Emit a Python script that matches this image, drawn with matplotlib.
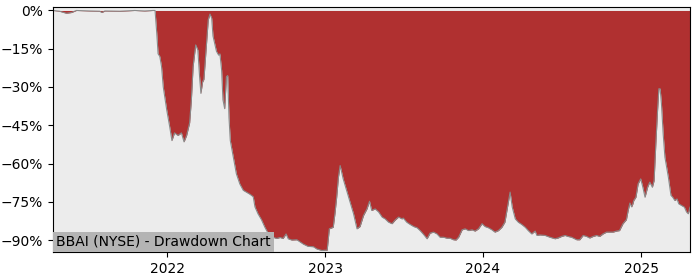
import matplotlib
matplotlib.use("Agg")
import matplotlib.pyplot as plt
import matplotlib.dates as mdates
import matplotlib.ticker as mticker
import pandas as pd

dates = ["2021-04-12","2021-04-27","2021-05-13","2021-05-25","2021-06-05","2021-07-06","2021-07-29","2021-08-03",
"2021-08-10","2021-09-14","2021-10-18","2021-11-10","2021-11-29","2021-12-04","2021-12-08","2021-12-11",
"2021-12-15","2021-12-19","2021-12-23","2021-12-31","2022-01-07","2022-01-12","2022-01-18","2022-01-26",
"2022-02-03","2022-02-09","2022-02-15","2022-02-22","2022-02-26","2022-03-02","2022-03-08","2022-03-13",
"2022-03-17","2022-03-20","2022-03-24","2022-03-27","2022-04-02","2022-04-06","2022-04-10","2022-04-14",
"2022-04-17","2022-04-25","2022-04-30","2022-05-03","2022-05-07","2022-05-10","2022-05-14","2022-05-18",
"2022-05-21","2022-05-24","2022-05-27","2022-06-03","2022-06-10","2022-06-18","2022-06-26","2022-07-11",
"2022-07-19","2022-07-23","2022-07-30","2022-08-07","2022-08-15","2022-08-23","2022-08-27","2022-09-03",
"2022-09-11","2022-09-19","2022-09-26","2022-10-03","2022-10-08","2022-10-16","2022-10-28","2022-11-04",
"2022-11-12","2022-11-23","2022-12-05","2022-12-13","2022-12-25","2023-01-01","2023-01-06","2023-01-11",
"2023-01-20","2023-01-24","2023-01-28","2023-02-01","2023-02-05","2023-02-12","2023-02-20","2023-02-28",
"2023-03-08","2023-03-16","2023-03-23","2023-03-31","2023-04-08","2023-04-14","2023-04-19","2023-04-27",
"2023-05-05","2023-05-13","2023-05-20","2023-05-28","2023-06-05","2023-06-12","2023-06-20","2023-06-28",
"2023-07-01","2023-07-09","2023-07-17","2023-07-25","2023-08-02","2023-08-09","2023-08-17","2023-08-25",
"2023-09-01","2023-09-09","2023-09-17","2023-09-24","2023-10-02","2023-10-10","2023-10-17","2023-10-25",
"2023-10-31","2023-11-06","2023-11-14","2023-11-21","2023-11-29","2023-12-07","2023-12-14","2023-12-22",
"2023-12-30","2024-01-06","2024-01-14","2024-01-22","2024-01-29","2024-02-06","2024-02-14","2024-02-21",
"2024-02-27","2024-03-04","2024-03-09","2024-03-16","2024-03-23","2024-03-31","2024-04-08","2024-04-15",
"2024-04-23","2024-05-01","2024-05-05","2024-05-12","2024-05-24","2024-06-04","2024-06-16","2024-06-23",
"2024-07-01","2024-07-09","2024-07-16","2024-07-24","2024-08-05","2024-08-12","2024-08-20","2024-08-28",
"2024-09-04","2024-09-12","2024-09-20","2024-09-27","2024-10-05","2024-10-13","2024-10-20","2024-10-28",
"2024-11-05","2024-11-12","2024-11-20","2024-11-28","2024-12-02","2024-12-06","2024-12-10","2024-12-13",
"2024-12-15","2024-12-20","2024-12-25","2024-12-31","2025-01-05","2025-01-10","2025-01-16","2025-01-21",
"2025-01-27","2025-01-31","2025-02-04","2025-02-08","2025-02-11","2025-02-14","2025-02-17","2025-02-21",
"2025-02-25","2025-03-01","2025-03-05","2025-03-11","2025-03-15","2025-03-20","2025-03-25","2025-03-29",
"2025-04-05","2025-04-11","2025-04-16","2025-04-20","2025-04-24"]

drawdown = [0,-0.3,-1.1,-0.8,0,-0.2,-0.3,-0.8,
-0.2,-0.3,0,-0.2,0,0,-9,-17,
-18,-22,-30,-39,-45.7,-51,-48,-49,
-48,-51.5,-49,-44,-35,-22,-13.5,-15.5,
-26,-32.5,-28,-27,-13,-3.7,-1.4,-3,
-10,-16,-17.5,-17,-23.5,-35,-38.5,-26,
-25.5,-42,-51,-57.5,-64,-68,-70.5,-72,
-73,-77,-79.7,-82,-85,-87.5,-89.4,-88.9,
-89.4,-89,-89.4,-87.6,-89.5,-90,-89.9,-90.7,
-91.6,-92.5,-92.6,-93.5,-94.1,-94,-94,-85.6,
-85,-79.6,-73.2,-65.4,-60.8,-66,-70.6,-75.2,
-79.7,-85.6,-84.7,-80.4,-77.8,-74.8,-78.4,-77.8,
-79,-81,-81.7,-83,-83.6,-82.2,-81,-81.7,
-81.4,-83,-83.9,-84.7,-85.2,-86.3,-87.8,-89.5,
-87.3,-86.9,-87.6,-88.9,-88.9,-89.3,-89.3,-89.9,
-90,-88.9,-86,-85.6,-86.3,-86,-86.5,-85.6,
-83.6,-84.7,-85.2,-86,-86.9,-86.3,-85,-83,
-77.1,-71.2,-77.1,-81.7,-83,-83.9,-85,-86.3,
-87.6,-86.5,-88.2,-88,-88.2,-88.9,-89.5,-89.2,
-88.6,-88.2,-88.6,-88.9,-89.9,-89.9,-88.2,-88.6,
-89.2,-88.6,-88.2,-88.6,-87.6,-86.9,-86.9,-86.9,
-86.5,-86.3,-83.6,-82,-78.4,-75.5,-77,-75.8,
-74.5,-73.2,-68,-66,-69.3,-73.2,-69.3,-67.3,
-69.3,-66.7,-52.3,-39.2,-30.7,-30.7,-36.6,-48.4,
-57.5,-61.4,-65.4,-72.5,-73.2,-74.5,-73.9,-75.8,
-76.5,-77.1,-79,-79.7,-77.1]

title = "BBAI (NYSE) - Drawdown Chart"
yticks = [0, -15, -30, -45, -60, -75, -90]

x = pd.to_datetime(dates)

fig = plt.figure(figsize=(7, 2.8), dpi=100)
ax = fig.add_axes([0.0757, 0.099, 0.91, 0.875])
ax.set_facecolor("#ececec")
ax.fill_between(x, drawdown, 0, color="#b03030", linewidth=0)
ax.plot(x, drawdown, color="#8a8a8a", linewidth=0.8)
ax.set_xlim(x[0], x[-1])
ax.set_ylim(-94.8, 1.25)
ax.set_yticks(yticks)
ax.yaxis.set_major_formatter(mticker.FuncFormatter(lambda v, p: f"{int(v)}%".replace("-", "\u2212")))
ax.xaxis.set_major_locator(mdates.YearLocator())
ax.xaxis.set_major_formatter(mdates.DateFormatter("%Y"))
ax.annotate(title, xy=(0, 0), xycoords="axes fraction", xytext=(2.2, 2.6),
            textcoords="offset points", ha="left", va="bottom", fontsize=10,
            bbox=dict(facecolor="#b4b4b4", edgecolor="none", pad=2.2))
fig.savefig("out.png", dpi=100)
